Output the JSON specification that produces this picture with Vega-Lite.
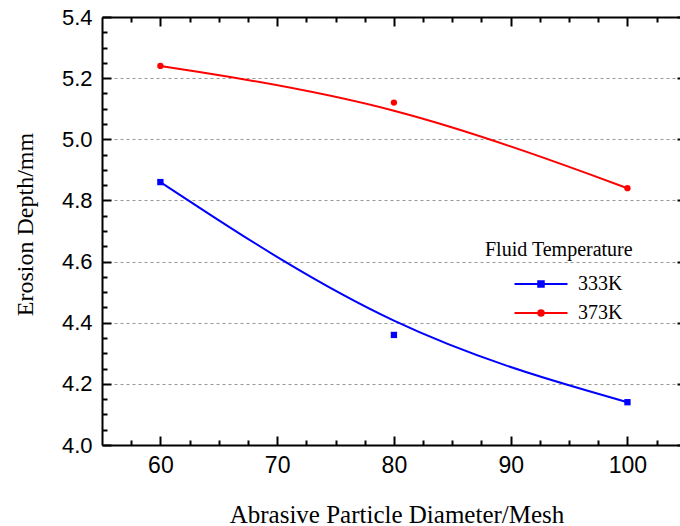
{
  "$schema": "https://vega.github.io/schema/vega-lite/v6.json",
  "width": 578,
  "height": 428,
  "autosize": {"type": "none"},
  "padding": {"left": 102, "top": 17, "right": 0, "bottom": 81},
  "background": "white",
  "config": {
    "view": {"stroke": null},
    "axis": {"grid": false, "domainColor": "black", "tickColor": "black", "labelColor": "black", "titleColor": "black"}
  },
  "data": {
    "values": [
      {"mesh": 60, "depth": 4.86, "temp": "333K"},
      {"mesh": 80, "depth": 4.36, "temp": "333K"},
      {"mesh": 100, "depth": 4.14, "temp": "333K"},
      {"mesh": 60, "depth": 5.24, "temp": "373K"},
      {"mesh": 80, "depth": 5.12, "temp": "373K"},
      {"mesh": 100, "depth": 4.84, "temp": "373K"}
    ]
  },
  "resolve": {"axis": {"x": "independent", "y": "independent"}},
  "layer": [
    {
      "mark": {"type": "line", "interpolate": "basis", "strokeWidth": 2},
      "encoding": {
        "x": {
          "field": "mesh", "type": "quantitative",
          "scale": {"domain": [55, 104.5], "nice": false, "zero": false},
          "axis": {
            "orient": "bottom", "values": [60, 70, 80, 90, 100], "format": "d",
            "tickSize": -9, "tickWidth": 2, "domainWidth": 2,
            "labelFont": "Liberation Sans", "labelFontSize": 23, "labelPadding": 18,
            "title": "Abrasive Particle Diameter/Mesh", "titleFont": "Liberation Serif",
            "titleFontSize": 25, "titleFontWeight": "normal",
            "titleX": 294.5, "titleY": 77, "titleBaseline": "alphabetic"
          }
        },
        "y": {
          "field": "depth", "type": "quantitative",
          "scale": {"domain": [4.0, 5.4], "nice": false, "zero": false},
          "axis": {
            "orient": "left", "values": [4.0, 4.2, 4.4, 4.6, 4.8, 5.0, 5.2, 5.4], "format": ".1f",
            "tickSize": -9, "tickWidth": 2, "domainWidth": 2,
            "grid": true, "gridDash": [3, 3], "gridColor": "#999999", "gridWidth": 1,
            "labelFont": "Liberation Sans", "labelFontSize": 22, "labelPadding": 19,
            "title": "Erosion Depth/mm", "titleFont": "Liberation Serif",
            "titleFontSize": 24, "titleFontWeight": "normal",
            "titleX": -70, "titleY": 207, "titleBaseline": "alphabetic", "titleAngle": 270
          }
        },
        "color": {
          "field": "temp", "type": "nominal",
          "scale": {"domain": ["333K", "373K"], "range": ["#0000ff", "#ff0000"]},
          "legend": {
            "orient": "none", "legendX": 383, "legendY": 223,
            "title": "Fluid Temperature", "titleFont": "Liberation Serif", "titleFontSize": 20,
            "titleFontWeight": "normal", "titleColor": "black", "titlePadding": 14,
            "labelFont": "Liberation Serif", "labelFontSize": 20, "labelColor": "black",
            "symbolSize": 100, "symbolStrokeWidth": 2, "symbolOffset": 46, "labelOffset": 27,
            "rowPadding": 9,
            "encode": {
              "symbols": {
                "update": {
                  "shape": {"signal": "datum.value === '333K' ? 'M-5.3,0H5.3M-0.55,-0.55H0.55V0.55H-0.55Z' : 'M-5.3,0H5.3M-0.55,0A0.55,0.55,0,1,0,0.55,0A0.55,0.55,0,1,0,-0.55,0Z'"},
                  "fill": {"signal": "datum.value === '333K' ? '#0000ff' : '#ff0000'"},
                  "stroke": {"signal": "datum.value === '333K' ? '#0000ff' : '#ff0000'"},
                  "opacity": {"value": 1},
                  "strokeWidth": {"value": 2}
                }
              }
            }
          }
        }
      }
    },
    {
      "transform": [{"filter": "datum.temp === '333K'"}],
      "mark": {"type": "square", "opacity": 1, "size": 40, "color": "#0000ff"},
      "encoding": {
        "x": {
          "field": "mesh", "type": "quantitative",
          "scale": {"domain": [55, 104.5], "nice": false, "zero": false},
          "axis": {"orient": "top", "values": [60, 70, 80, 90, 100], "labels": false, "tickSize": -9, "tickWidth": 2, "domainWidth": 2, "title": null}
        },
        "y": {
          "field": "depth", "type": "quantitative",
          "scale": {"domain": [4.0, 5.4], "nice": false, "zero": false},
          "axis": {"orient": "right", "values": [4.0, 4.2, 4.4, 4.6, 4.8, 5.0, 5.2, 5.4], "labels": false, "tickSize": -9, "tickWidth": 2, "domain": false, "offset": 6, "title": null}
        }
      }
    },
    {
      "transform": [{"filter": "datum.temp === '373K'"}],
      "mark": {"type": "circle", "opacity": 1, "size": 40, "color": "#ff0000"},
      "encoding": {
        "x": {
          "field": "mesh", "type": "quantitative",
          "scale": {"domain": [55, 104.5], "nice": false, "zero": false},
          "axis": null
        },
        "y": {
          "field": "depth", "type": "quantitative",
          "scale": {"domain": [4.0, 5.4], "nice": false, "zero": false},
          "axis": null
        }
      }
    },
    {
      "mark": {"type": "point", "opacity": 0},
      "encoding": {
        "x": {
          "field": "mesh", "type": "quantitative",
          "scale": {"domain": [55, 104.5], "nice": false, "zero": false},
          "axis": {"orient": "bottom", "values": [57.5, 62.5, 65, 67.5, 72.5, 75, 77.5, 82.5, 85, 87.5, 92.5, 95, 97.5, 102.5], "labels": false, "domain": false, "tickSize": -5, "tickWidth": 2, "title": null}
        },
        "y": {
          "field": "depth", "type": "quantitative",
          "scale": {"domain": [4.0, 5.4], "nice": false, "zero": false},
          "axis": {"orient": "left", "values": [4.05, 4.1, 4.15, 4.25, 4.3, 4.35, 4.45, 4.5, 4.55, 4.65, 4.7, 4.75, 4.85, 4.9, 4.95, 5.05, 5.1, 5.15, 5.25, 5.3, 5.35], "labels": false, "domain": false, "tickSize": -5, "tickWidth": 2, "title": null}
        }
      }
    },
    {
      "mark": {"type": "point", "opacity": 0},
      "encoding": {
        "x": {
          "field": "mesh", "type": "quantitative",
          "scale": {"domain": [55, 104.5], "nice": false, "zero": false},
          "axis": {"orient": "top", "values": [57.5, 62.5, 65, 67.5, 72.5, 75, 77.5, 82.5, 85, 87.5, 92.5, 95, 97.5, 102.5], "labels": false, "domain": false, "tickSize": -5, "tickWidth": 2, "title": null}
        },
        "y": {
          "field": "depth", "type": "quantitative",
          "scale": {"domain": [4.0, 5.4], "nice": false, "zero": false},
          "axis": {"orient": "right", "values": [4.05, 4.1, 4.15, 4.25, 4.3, 4.35, 4.45, 4.5, 4.55, 4.65, 4.7, 4.75, 4.85, 4.9, 4.95, 5.05, 5.1, 5.15, 5.25, 5.3, 5.35], "labels": false, "domain": false, "offset": 6, "tickSize": -5, "tickWidth": 2, "title": null}
        }
      }
    }
  ]
}
